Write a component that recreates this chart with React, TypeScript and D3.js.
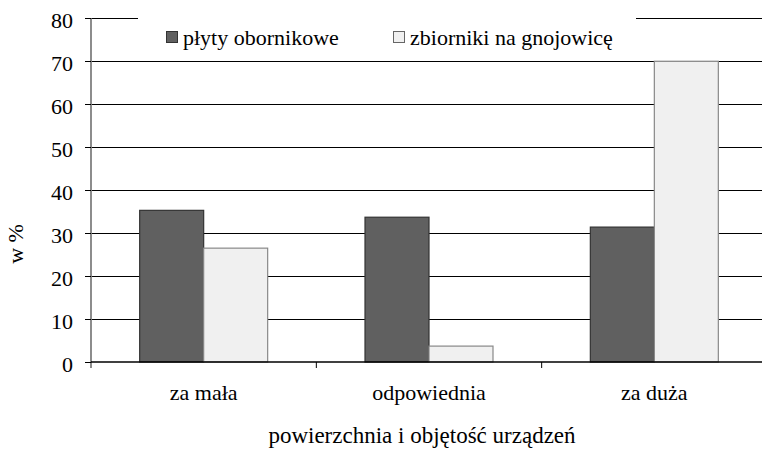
import * as d3 from 'd3';

const categories = ['za mała', 'odpowiednia', 'za duża'];
const seriesNames = ['płyty obornikowe', 'zbiorniki na gnojowicę'];
const plyty = [35.3, 33.7, 31.4];
const zbiorniki = [26.5, 3.7, 70];
const yTicks = [0, 10, 20, 30, 40, 50, 60, 70, 80];

const W = 762;
const H = 450;
const font = { fontFamily: 'Liberation Serif', fontSize: 22 };

const left = 91;
const right = 767;
const top = 18.3;
const bottom = 362;

const x = d3.scaleBand<string>().domain(categories).range([left, right]).paddingInner(0.432).paddingOuter(0.216);
const xs = d3.scaleBand<string>().domain(seriesNames).range([0, x.bandwidth()]);
const y = d3.scaleLinear().domain([0, 80]).range([bottom, top]);

const series = [
  { name: seriesNames[0], values: plyty, fill: '#606060', stroke: '#333' },
  { name: seriesNames[1], values: zbiorniki, fill: '#f0f0f0', stroke: '#888' },
];
const legendX = [166, 393];

export default function App() {
  const step = x.step();
  return (
    <svg width={W} height={H} style={{ position: 'absolute', left: 0, top: 0, background: '#fff' }}>
      {/* gridlines */}
      {yTicks.filter(d => d > 0).map(d => (
        <line key={d} x1={left} x2={right} y1={Math.round(y(d)) + 0.5} y2={Math.round(y(d)) + 0.5} stroke="#000" />
      ))}

      {/* bars */}
      {series.map(s => (
        <g key={s.name}>
          {categories.map((c, i) => (
            <rect
              key={c}
              x={(x(c) as number) + (xs(s.name) as number)}
              y={y(s.values[i])}
              width={xs.bandwidth()}
              height={bottom - y(s.values[i])}
              fill={s.fill}
              stroke={s.stroke}
              strokeWidth={1.2}
            />
          ))}
        </g>
      ))}

      {/* y axis */}
      <line x1={left} x2={left} y1={top} y2={bottom + 6} stroke="#808080" strokeWidth={1.8} />
      {yTicks.map(d => (
        <g key={d} transform={`translate(0,${Math.round(y(d)) + 0.5})`}>
          <line x1={left - 6} x2={left} stroke="#000" />
          <text x={left - 18} dy="0.42em" textAnchor="end" style={font}>{d}</text>
        </g>
      ))}

      {/* x axis */}
      <line x1={left} x2={right} y1={bottom} y2={bottom} stroke="#000" strokeWidth={1.5} />
      {d3.range(1, categories.length + 1).map(i => (
        <line key={i} x1={left + i * step} x2={left + i * step} y1={bottom} y2={bottom + 6} stroke="#000" />
      ))}
      {categories.map(c => (
        <text key={c} x={(x(c) as number) + x.bandwidth() / 2} y={bottom + 38} textAnchor="middle" style={font}>{c}</text>
      ))}

      {/* legend */}
      <rect x={138} y={8} width={498} height={44} fill="#fff" />
      {series.map((s, i) => (
        <g key={s.name}>
          <rect x={legendX[i] + 0.5} y={31.5} width={11} height={11} fill={s.fill} stroke={i === 0 ? '#333' : '#666'} />
          <text x={legendX[i] + 17} y={45} style={font}>{s.name}</text>
        </g>
      ))}

      <text transform="translate(23,244) rotate(-90)" textAnchor="middle" style={font}>w %</text>
      <text x={422} y={443} textAnchor="middle" style={{ ...font, fontSize: 23 }}>powierzchnia i objętość urządzeń</text>
    </svg>
  );
}
